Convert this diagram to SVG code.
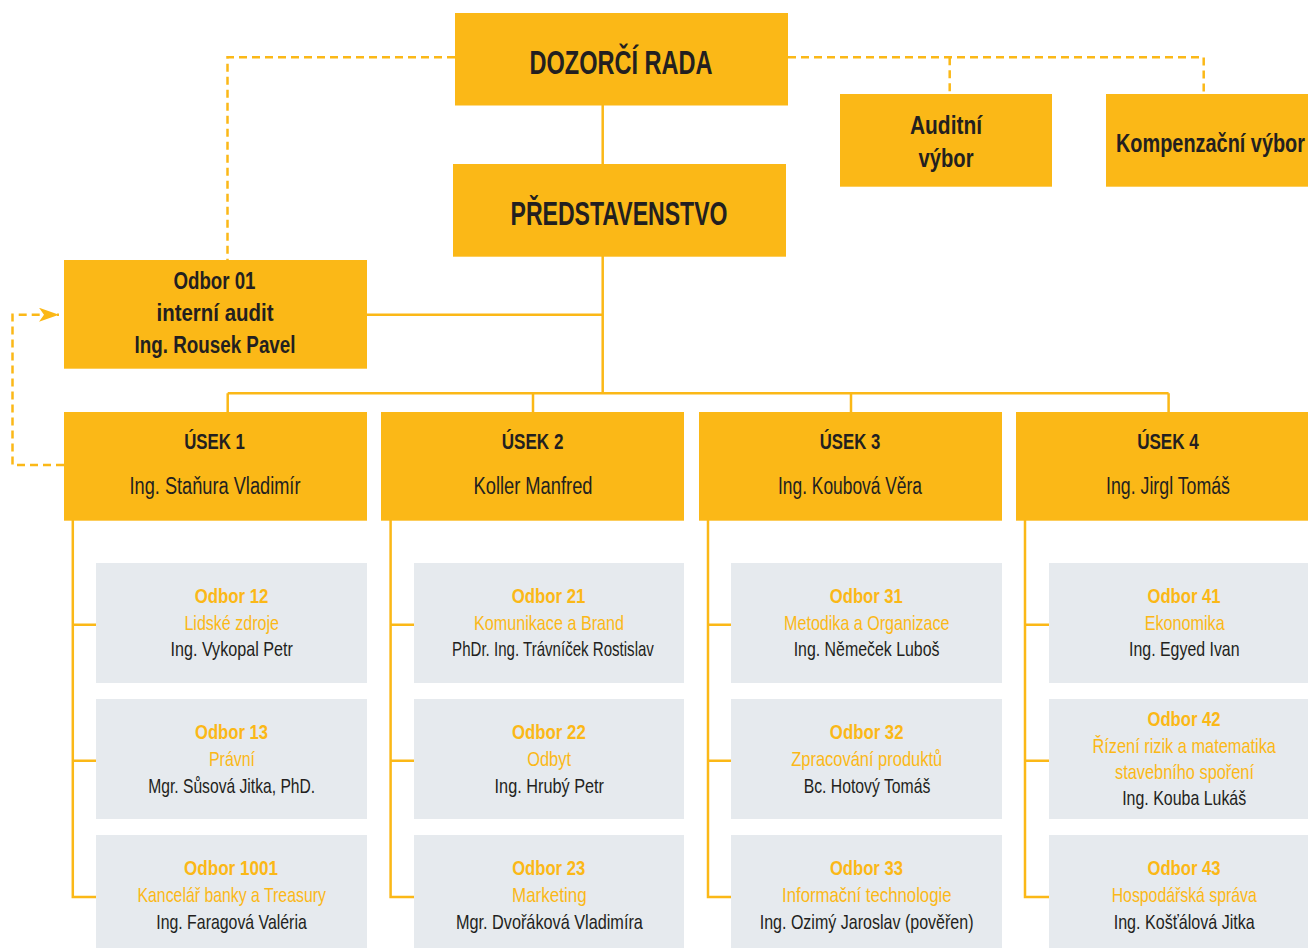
<svg xmlns="http://www.w3.org/2000/svg" width="1308" height="948" viewBox="0 0 1308 948">
<style>
text{font-family:"Liberation Sans Narrow","Liberation Sans",Arial,sans-serif;text-anchor:middle}
.y{fill:#FBB817}
.g{fill:#E6EAEE}
.t1{font-size:33px;font-weight:bold;fill:#231F20}
.t2{font-size:26px;font-weight:bold;fill:#231F20}
.t3{font-size:24px;font-weight:bold;fill:#231F20}
.uh{font-size:22px;font-weight:bold;fill:#231F20}
.un{font-size:23px;fill:#231F20}
.sh{font-size:21px;font-weight:bold;fill:#FBB817}
.sd{font-size:21px;fill:#FBB817}
.sp{font-size:21px;fill:#231F20}
.ln{fill:none;stroke:#FBB817;stroke-width:2.5}
.ds{fill:none;stroke:#FBB817;stroke-width:2.5;stroke-dasharray:8 5}
</style>
<defs>
<marker id="arr" markerUnits="userSpaceOnUse" markerWidth="24" markerHeight="16" refX="20" refY="7" orient="auto">
<path d="M0,0 L20,7 L0,14 L5,7 Z" fill="#FBB817"/>
</marker>
</defs>
<g id="connectors">
<path class="ln" d="M602.7,105 V164 M602.7,256 V393.3 M367,314.7 H602.7 M227.7,393.3 H1168.6 M227.7,393.3 V412 M533,393.3 V412 M851,393.3 V412 M1168.6,393.3 V412"/>
<path class="ln" d="M72.8,520 V897 H96 M72.8,624.7 H96 M72.8,760.7 H96"/>
<path class="ln" d="M390.6,520 V897 H414 M390.6,624.7 H414 M390.6,760.7 H414"/>
<path class="ln" d="M708,520 V897 H731 M708,624.7 H731 M708,760.7 H731"/>
<path class="ln" d="M1025,520 V897 H1049 M1025,624.7 H1049 M1025,760.7 H1049"/>
<path class="ds" d="M455,57.3 H227.5 V260"/>
<path class="ds" d="M788,57.3 H1203.7 V94 M949.7,57.3 V94"/>
<path class="ds" d="M64,465 H12.5 V314.7 H44"/>
<path class="ds" d="M44,314.7 H59" stroke-dasharray="none" stroke="none" marker-end="url(#arr)"/>
</g>
<g id="dozorci-rada">
<rect class="y" x="455" y="13" width="333" height="92.5"/>
<text class="t1" x="621" y="74" textLength="183" lengthAdjust="spacingAndGlyphs">DOZORČÍ RADA</text>
</g>
<g id="predstavenstvo">
<rect class="y" x="453" y="164" width="333" height="92.7"/>
<text class="t1" x="619" y="225" textLength="217" lengthAdjust="spacingAndGlyphs">PŘEDSTAVENSTVO</text>
</g>
<g id="auditni-vybor">
<rect class="y" x="840" y="94" width="212" height="92.7"/>
<text class="t2" x="946" y="134" textLength="72" lengthAdjust="spacingAndGlyphs">Auditní</text>
<text class="t2" x="946" y="167" textLength="55" lengthAdjust="spacingAndGlyphs">výbor</text>
</g>
<g id="kompenzacni-vybor">
<rect class="y" x="1106" y="94" width="202" height="92.7"/>
<text class="t2" x="1210.5" y="152" textLength="189" lengthAdjust="spacingAndGlyphs">Kompenzační výbor</text>
</g>
<g id="odbor-01">
<rect class="y" x="64" y="260" width="303" height="108.7"/>
<text class="t3" x="214.5" y="288.7" textLength="82" lengthAdjust="spacingAndGlyphs">Odbor 01</text>
<text class="t3" x="215" y="320.7" textLength="117" lengthAdjust="spacingAndGlyphs">interní audit</text>
<text class="t3" x="215" y="352.7" textLength="161" lengthAdjust="spacingAndGlyphs">Ing. Rousek Pavel</text>
</g>
<g id="usek-1">
<rect class="y" x="64" y="412" width="303" height="108.7"/>
<text class="uh" x="214.5" y="449.3" textLength="60.6" lengthAdjust="spacingAndGlyphs">ÚSEK 1</text>
<text class="un" x="215" y="494.3" textLength="171" lengthAdjust="spacingAndGlyphs">Ing. Staňura Vladimír</text>
</g>
<g id="usek-2">
<rect class="y" x="381" y="412" width="303" height="108.7"/>
<text class="uh" x="532.6" y="449.3" textLength="61.6" lengthAdjust="spacingAndGlyphs">ÚSEK 2</text>
<text class="un" x="533" y="494.3" textLength="119" lengthAdjust="spacingAndGlyphs">Koller Manfred</text>
</g>
<g id="usek-3">
<rect class="y" x="699" y="412" width="303" height="108.7"/>
<text class="uh" x="850" y="449.3" textLength="60.4" lengthAdjust="spacingAndGlyphs">ÚSEK 3</text>
<text class="un" x="850" y="494.3" textLength="144" lengthAdjust="spacingAndGlyphs">Ing. Koubová Věra</text>
</g>
<g id="usek-4">
<rect class="y" x="1016" y="412" width="300" height="108.7"/>
<text class="uh" x="1168" y="449.3" textLength="61.7" lengthAdjust="spacingAndGlyphs">ÚSEK 4</text>
<text class="un" x="1168" y="494.3" textLength="124" lengthAdjust="spacingAndGlyphs">Ing. Jirgl Tomáš</text>
</g>
<g id="odbor-12">
<rect class="g" x="96" y="563" width="271" height="120"/>
<text class="sh" x="231.5" y="603" textLength="73.7" lengthAdjust="spacingAndGlyphs">Odbor 12</text>
<text class="sd" x="231.7" y="630" textLength="94.6" lengthAdjust="spacingAndGlyphs">Lidské zdroje</text>
<text class="sp" x="231.7" y="656" textLength="122.3" lengthAdjust="spacingAndGlyphs">Ing. Vykopal Petr</text>
</g>
<g id="odbor-13">
<rect class="g" x="96" y="699" width="271" height="120"/>
<text class="sh" x="231.5" y="739.3" textLength="73" lengthAdjust="spacingAndGlyphs">Odbor 13</text>
<text class="sd" x="232" y="766" textLength="46" lengthAdjust="spacingAndGlyphs">Právní</text>
<text class="sp" x="231.7" y="793" textLength="167" lengthAdjust="spacingAndGlyphs">Mgr. Sůsová Jitka, PhD.</text>
</g>
<g id="odbor-1001">
<rect class="g" x="96" y="835" width="271" height="120"/>
<text class="sh" x="231" y="875" textLength="94" lengthAdjust="spacingAndGlyphs">Odbor 1001</text>
<text class="sd" x="231.7" y="902" textLength="188.4" lengthAdjust="spacingAndGlyphs">Kancelář banky a Treasury</text>
<text class="sp" x="231.5" y="929" textLength="150.5" lengthAdjust="spacingAndGlyphs">Ing. Faragová Valéria</text>
</g>
<g id="odbor-21">
<rect class="g" x="414" y="563" width="270" height="120"/>
<text class="sh" x="548.5" y="603" textLength="73.7" lengthAdjust="spacingAndGlyphs">Odbor 21</text>
<text class="sd" x="549" y="630" textLength="150" lengthAdjust="spacingAndGlyphs">Komunikace a Brand</text>
<text class="sp" x="553" y="656" textLength="201.8" lengthAdjust="spacingAndGlyphs">PhDr. Ing. Trávníček Rostislav</text>
</g>
<g id="odbor-22">
<rect class="g" x="414" y="699" width="270" height="120"/>
<text class="sh" x="548.9" y="739.3" textLength="73.7" lengthAdjust="spacingAndGlyphs">Odbor 22</text>
<text class="sd" x="549.1" y="766" textLength="43.8" lengthAdjust="spacingAndGlyphs">Odbyt</text>
<text class="sp" x="549.3" y="793" textLength="109.4" lengthAdjust="spacingAndGlyphs">Ing. Hrubý Petr</text>
</g>
<g id="odbor-23">
<rect class="g" x="414" y="835" width="270" height="120"/>
<text class="sh" x="548.7" y="875" textLength="73" lengthAdjust="spacingAndGlyphs">Odbor 23</text>
<text class="sd" x="549.3" y="902" textLength="74.6" lengthAdjust="spacingAndGlyphs">Marketing</text>
<text class="sp" x="549.4" y="929" textLength="187" lengthAdjust="spacingAndGlyphs">Mgr. Dvořáková Vladimíra</text>
</g>
<g id="odbor-31">
<rect class="g" x="731" y="563" width="271" height="120"/>
<text class="sh" x="866.3" y="603" textLength="73" lengthAdjust="spacingAndGlyphs">Odbor 31</text>
<text class="sd" x="866.8" y="630" textLength="165.5" lengthAdjust="spacingAndGlyphs">Metodika a Organizace</text>
<text class="sp" x="866.6" y="656" textLength="145.8" lengthAdjust="spacingAndGlyphs">Ing. Němeček Luboš</text>
</g>
<g id="odbor-32">
<rect class="g" x="731" y="699" width="271" height="120"/>
<text class="sh" x="866.7" y="739.3" textLength="73.7" lengthAdjust="spacingAndGlyphs">Odbor 32</text>
<text class="sd" x="866.7" y="766" textLength="151" lengthAdjust="spacingAndGlyphs">Zpracování produktů</text>
<text class="sp" x="867" y="793" textLength="126.6" lengthAdjust="spacingAndGlyphs">Bc. Hotový Tomáš</text>
</g>
<g id="odbor-33">
<rect class="g" x="731" y="835" width="271" height="120"/>
<text class="sh" x="866.4" y="875" textLength="73" lengthAdjust="spacingAndGlyphs">Odbor 33</text>
<text class="sd" x="866.8" y="902" textLength="169.5" lengthAdjust="spacingAndGlyphs">Informační technologie</text>
<text class="sp" x="866.6" y="929" textLength="213.8" lengthAdjust="spacingAndGlyphs">Ing. Ozimý Jaroslav (pověřen)</text>
</g>
<g id="odbor-41">
<rect class="g" x="1049" y="563" width="270" height="120"/>
<text class="sh" x="1184" y="603" textLength="73" lengthAdjust="spacingAndGlyphs">Odbor 41</text>
<text class="sd" x="1184.7" y="630" textLength="80" lengthAdjust="spacingAndGlyphs">Ekonomika</text>
<text class="sp" x="1184.3" y="656" textLength="110.5" lengthAdjust="spacingAndGlyphs">Ing. Egyed Ivan</text>
</g>
<g id="odbor-42">
<rect class="g" x="1049" y="699" width="270" height="120"/>
<text class="sh" x="1184" y="725.7" textLength="73" lengthAdjust="spacingAndGlyphs">Odbor 42</text>
<text class="sd" x="1184.2" y="752.7" textLength="183.4" lengthAdjust="spacingAndGlyphs">Řízení rizik a matematika</text>
<text class="sd" x="1184.5" y="779" textLength="139" lengthAdjust="spacingAndGlyphs">stavebního spoření</text>
<text class="sp" x="1184.2" y="805" textLength="124" lengthAdjust="spacingAndGlyphs">Ing. Kouba Lukáš</text>
</g>
<g id="odbor-43">
<rect class="g" x="1049" y="835" width="270" height="120"/>
<text class="sh" x="1184" y="875" textLength="73" lengthAdjust="spacingAndGlyphs">Odbor 43</text>
<text class="sd" x="1184.2" y="902" textLength="145" lengthAdjust="spacingAndGlyphs">Hospodářská správa</text>
<text class="sp" x="1184.2" y="929" textLength="141" lengthAdjust="spacingAndGlyphs">Ing. Košťálová Jitka</text>
</g>
</svg>
